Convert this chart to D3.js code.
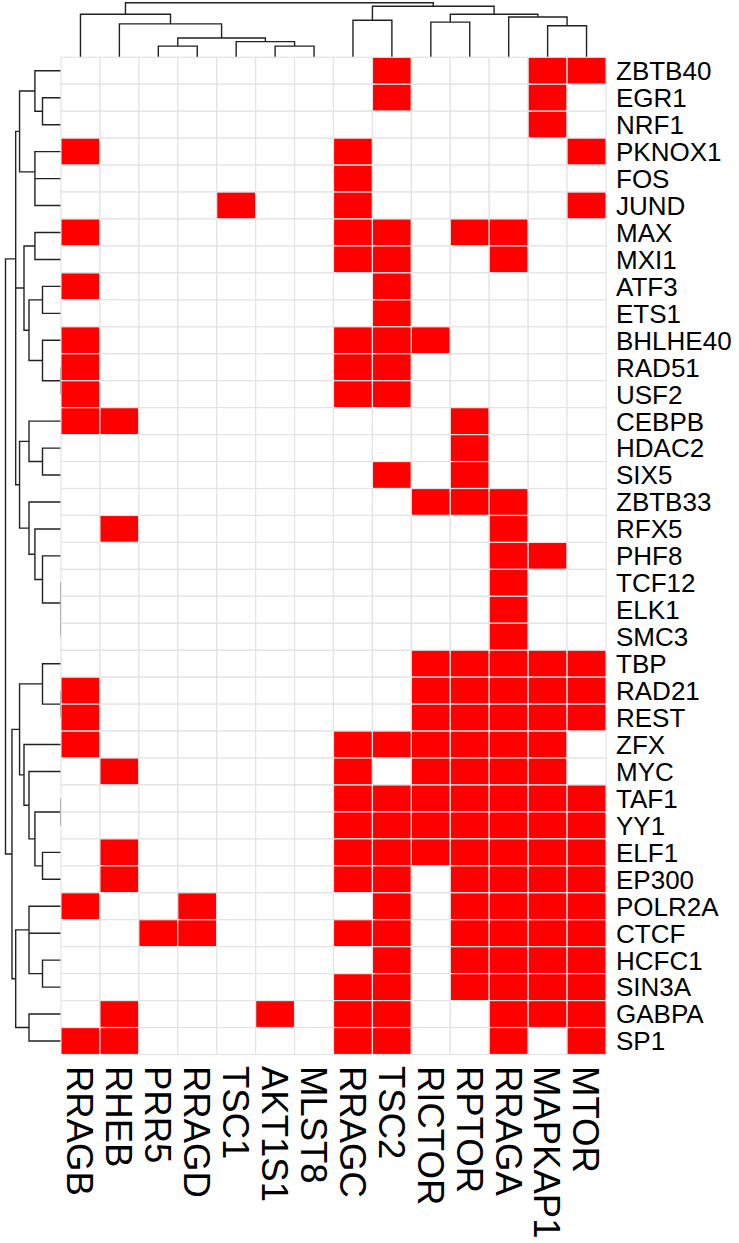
<!DOCTYPE html>
<html>
<head>
<meta charset="utf-8">
<script src="https://cdn.jsdelivr.net/npm/d3@7"></script>
<style>
  body { margin: 0; background: #fff; }
  svg { display: block; }
  text { font-family: "Liberation Sans", Arial, Helvetica, sans-serif; fill: #000; }
</style>
</head>
<body>
<svg id="chart" width="739" height="1243"></svg>
<script>

let columnNames = [
    'RRAGB', 'RHEB', 'PRR5', 'RRAGD', 'TSC1', 'AKT1S1', 'MLST8',
    'RRAGC', 'TSC2', 'RICTOR', 'RPTOR', 'RRAGA', 'MAPKAP1', 'MTOR'
];

let rowNames = [
    'ZBTB40', 'EGR1', 'NRF1', 'PKNOX1', 'FOS', 'JUND', 'MAX', 'MXI1',
    'ATF3', 'ETS1', 'BHLHE40', 'RAD51', 'USF2', 'CEBPB', 'HDAC2', 'SIX5',
    'ZBTB33', 'RFX5', 'PHF8', 'TCF12', 'ELK1', 'SMC3', 'TBP', 'RAD21',
    'REST', 'ZFX', 'MYC', 'TAF1', 'YY1', 'ELF1', 'EP300', 'POLR2A',
    'CTCF', 'HCFC1', 'SIN3A', 'GABPA', 'SP1'
];

// red cells, one list per row (same order as rowNames)
let rowHits = [
    ['TSC2', 'MAPKAP1', 'MTOR'],
    ['TSC2', 'MAPKAP1'],
    ['MAPKAP1'],
    ['RRAGB', 'RRAGC', 'MTOR'],
    ['RRAGC'],
    ['TSC1', 'RRAGC', 'MTOR'],
    ['RRAGB', 'RRAGC', 'TSC2', 'RPTOR', 'RRAGA'],
    ['RRAGC', 'TSC2', 'RRAGA'],
    ['RRAGB', 'TSC2'],
    ['TSC2'],
    ['RRAGB', 'RRAGC', 'TSC2', 'RICTOR'],
    ['RRAGB', 'RRAGC', 'TSC2'],
    ['RRAGB', 'RRAGC', 'TSC2'],
    ['RRAGB', 'RHEB', 'RPTOR'],
    ['RPTOR'],
    ['TSC2', 'RPTOR'],
    ['RICTOR', 'RPTOR', 'RRAGA'],
    ['RHEB', 'RRAGA'],
    ['RRAGA', 'MAPKAP1'],
    ['RRAGA'],
    ['RRAGA'],
    ['RRAGA'],
    ['RICTOR', 'RPTOR', 'RRAGA', 'MAPKAP1', 'MTOR'],
    ['RRAGB', 'RICTOR', 'RPTOR', 'RRAGA', 'MAPKAP1', 'MTOR'],
    ['RRAGB', 'RICTOR', 'RPTOR', 'RRAGA', 'MAPKAP1', 'MTOR'],
    ['RRAGB', 'RRAGC', 'TSC2', 'RICTOR', 'RPTOR', 'RRAGA', 'MAPKAP1'],
    ['RHEB', 'RRAGC', 'RICTOR', 'RPTOR', 'RRAGA', 'MAPKAP1'],
    ['RRAGC', 'TSC2', 'RICTOR', 'RPTOR', 'RRAGA', 'MAPKAP1', 'MTOR'],
    ['RRAGC', 'TSC2', 'RICTOR', 'RPTOR', 'RRAGA', 'MAPKAP1', 'MTOR'],
    ['RHEB', 'RRAGC', 'TSC2', 'RICTOR', 'RPTOR', 'RRAGA', 'MAPKAP1', 'MTOR'],
    ['RHEB', 'RRAGC', 'TSC2', 'RPTOR', 'RRAGA', 'MAPKAP1', 'MTOR'],
    ['RRAGB', 'RRAGD', 'TSC2', 'RPTOR', 'RRAGA', 'MAPKAP1', 'MTOR'],
    ['PRR5', 'RRAGD', 'RRAGC', 'TSC2', 'RPTOR', 'RRAGA', 'MAPKAP1', 'MTOR'],
    ['TSC2', 'RPTOR', 'RRAGA', 'MAPKAP1', 'MTOR'],
    ['RRAGC', 'TSC2', 'RPTOR', 'RRAGA', 'MAPKAP1', 'MTOR'],
    ['RHEB', 'AKT1S1', 'RRAGC', 'TSC2', 'RRAGA', 'MAPKAP1', 'MTOR'],
    ['RRAGB', 'RHEB', 'RRAGC', 'TSC2', 'RRAGA', 'MTOR']
];

// dendrograms: [mergeHeight, left, right], leaves are names
let colTree =
    [4.90,
     [3.87, 'RRAGB',
      [3.00, 'RHEB',
       [1.73, [1.00, 'PRR5', 'RRAGD'],
              [1.41, 'TSC1', [1.00, 'AKT1S1', 'MLST8']]]]],
     [4.58,
      [3.32, 'RRAGC', 'TSC2'],
      [3.87, [3.16, 'RICTOR', 'RPTOR'],
             [3.61, 'RRAGA', [2.83, 'MAPKAP1', 'MTOR']]]]];

let rowTree =
    [3.00,
     [2.45,
      [2.24, [1.41, 'ZBTB40', [1.00, 'EGR1', 'NRF1']],
             [1.41, 'PKNOX1', [1.41, 'FOS', 'JUND']]],
      [2.45,
       [2.00, [1.41, 'MAX', 'MXI1'],
              [1.73, [1.00, 'ATF3', 'ETS1'],
                     [1.00, 'BHLHE40', [0, 'RAD51', 'USF2']]]],
       [2.24, [1.73, 'CEBPB', [1.00, 'HDAC2', 'SIX5']],
              [1.73, 'ZBTB33',
               [1.41, 'RFX5', [1.00, 'PHF8', [0, 'TCF12', [0, 'ELK1', 'SMC3']]]]]]]],
     [2.65,
      [2.24, [1.00, 'TBP', [0, 'RAD21', 'REST']],
             [2.00, 'ZFX',
              [1.73, 'MYC', [1.41, [0, 'TAF1', 'YY1'], [1.00, 'ELF1', 'EP300']]]]],
      [2.45, [1.73, 'POLR2A', [1.73, 'CTCF', [1.00, 'HCFC1', 'SIN3A']]],
             [1.73, 'GABPA', 'SP1']]]];


let svg = d3.select('#chart');

let x = d3.scaleBand().domain(columnNames).range([61, 606]);
let y = d3.scaleBand().domain(rowNames).range([57.3, 1054.5]);

let colHeight = d3.scaleLinear().domain([0, 4.9]).range([57.3, 2.7]);
let rowHeight = d3.scaleLinear().domain([0, 3]).range([61, 5.5]);


function walkTree(node, leafPos, toXY, path) {
    if (typeof node === 'string') {
        return {pos: leafPos(node), h: 0};
    }
    let [h, left, right] = node;
    let a = walkTree(left, leafPos, toXY, path);
    let b = walkTree(right, leafPos, toXY, path);

    path.moveTo(...toXY(a.pos, a.h));
    path.lineTo(...toXY(a.pos, h));
    path.lineTo(...toXY(b.pos, h));
    path.lineTo(...toXY(b.pos, b.h));

    return {pos: (a.pos + b.pos) / 2, h: h};
}

function drawTree(tree, leafPos, toXY) {
    let path = d3.path();
    walkTree(tree, leafPos, toXY, path);
    svg.append('path')
        .attr('d', path.toString())
        .attr('fill', 'none')
        .attr('stroke', '#222')
        .attr('stroke-width', 1.4);
}

drawTree(colTree,
         c => x(c) + x.bandwidth() / 2,
         (pos, h) => [pos, colHeight(h)]);

drawTree(rowTree,
         r => y(r) + y.bandwidth() / 2,
         (pos, h) => [rowHeight(h), pos]);


let cells = _cells();

function _cells() {
    return rowNames.flatMap((r, i) =>
        columnNames.map(c => ({row: r, col: c, hit: rowHits[i].includes(c)})));
}

svg.append('g')
    .selectAll('rect')
    .data(cells)
    .enter()
    .append('rect')
    .attr('x', d => x(d.col))
    .attr('y', d => y(d.row))
    .attr('width', x.bandwidth())
    .attr('height', y.bandwidth())
    .attr('fill', d => d.hit ? '#ff0000' : '#ffffff')
    .attr('stroke', '#e3e3e3')
    .attr('stroke-width', 1.2);


svg.append('g')
    .selectAll('text')
    .data(rowNames)
    .enter()
    .append('text')
    .attr('x', 616)
    .attr('y', d => y(d) + y.bandwidth() / 2)
    .attr('dy', '0.36em')
    .style('font-size', '26px')
    .text(d => d);

svg.append('g')
    .selectAll('text')
    .data(columnNames)
    .enter()
    .append('text')
    .attr('transform', d => `translate(${x(d) + x.bandwidth() / 2},1066) rotate(90)`)
    .attr('dy', '0.36em')
    .style('font-size', '36.5px')
    .text(d => d);

</script>
</body>
</html>
